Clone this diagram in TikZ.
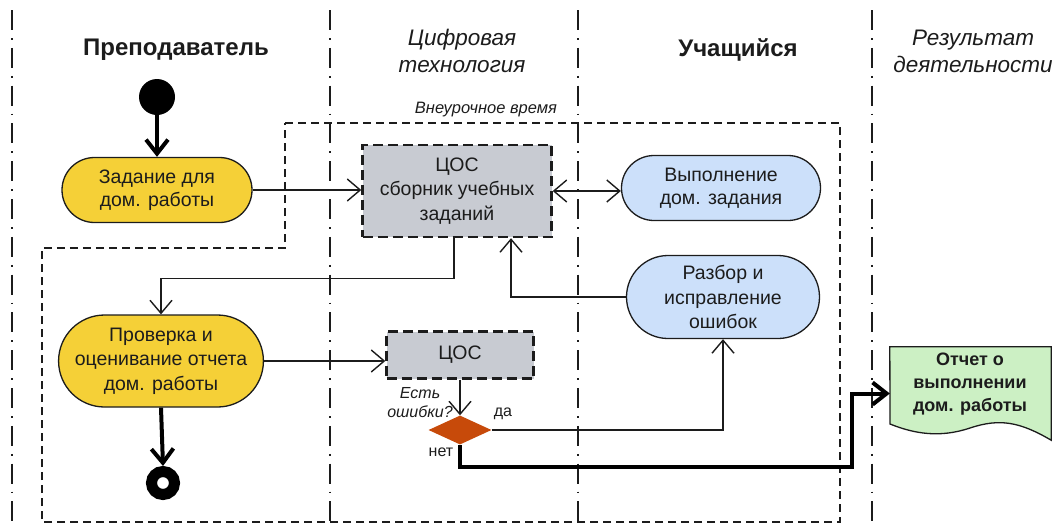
\documentclass[tikz,border=0pt]{standalone}
\usepackage{fontspec}
\setmainfont{Liberation Sans}
\usetikzlibrary{arrows.meta,shapes.misc,shapes.geometric,calc}

\definecolor{taskyellow}{RGB}{245,208,55}
\definecolor{studblue}{RGB}{204,224,250}
\definecolor{cosgray}{RGB}{200,203,210}
\definecolor{docgreen}{RGB}{204,240,196}
\definecolor{decision}{RGB}{199,74,10}
\definecolor{ink}{RGB}{28,28,28}

\tikzset{
  x=1pt, y=-1pt,
  every node/.style={text=ink, align=center},
  body/.style={font=\fontsize{19.5}{24.5}\selectfont},
  lanetitle/.style={font=\fontsize{24}{27}\selectfont\bfseries},
  laneitalic/.style={font=\fontsize{22.5}{27}\selectfont\itshape},
  smallnote/.style={font=\fontsize{16.5}{19}\selectfont\itshape},
  branch/.style={font=\fontsize{16}{19}\selectfont},
  lane/.style={line width=1.6pt, dash pattern=on 20pt off 8pt on 1.8pt off 8pt},
  region/.style={line width=1.4pt, dash pattern=on 8pt off 5pt},
  yellowact/.style={body, rounded rectangle, draw=ink, line width=1.3pt, fill=taskyellow, inner sep=2pt},
  blueact/.style={body, rounded rectangle, draw=ink, line width=1.3pt, fill=studblue, inner sep=2pt},
  cosbox/.style={body, rectangle, draw=ink, fill=cosgray, line width=2.4pt, dash pattern=on 10pt off 5pt},
  flow/.style={draw=ink, line width=1.4pt, -{Straight Barb[length=13pt,width=22pt,line width=1.4pt]}},
  twoway/.style={draw=ink, line width=1.4pt, {Straight Barb[length=13pt,width=22pt,line width=1.4pt]}-{Straight Barb[length=13pt,width=22pt,line width=1.4pt]}},
  mainflow/.style={draw=black, line width=4pt, -{Straight Barb[length=14pt,width=22pt,line width=4pt]}},
}

\begin{document}
\begin{tikzpicture}
\useasboundingbox (0,0) rectangle (1054,528);

% swimlane separators
\foreach \lx in {12,330,578,872}
  \draw[lane, ink] (\lx,10) -- (\lx,528);

% lane headings
\node[lanetitle] (hteacher) at (176,50) {Преподаватель};
\node[laneitalic] (htech) at (462,51) {Цифровая\\технология};
\node[lanetitle] (hstudent) at (738,50) {Учащийся};
\node[laneitalic] (hresult) at (973,51) {Результат\\деятельности};

% out-of-class area
\draw[region, ink] (285,123) -- (840,123) -- (840,522) -- (42,522) -- (42,248) -- (285,248) -- cycle;
\node[smallnote] (outside) at (486,110) {Внеурочное время};

% activities
\node[fill=black, circle, minimum size=36pt, inner sep=0] (start) at (157,97) {};
\node[yellowact, font=\fontsize{19.5}{23}\selectfont, minimum width=194pt, minimum height=65pt] (task) at (157,190) {Задание для\\дом. работы};
\node[cosbox, minimum width=189pt, minimum height=92pt] (cos1) at (457,191) {ЦОС\\сборник учебных\\заданий};
\node[blueact, font=\fontsize{19.5}{23}\selectfont, minimum width=203pt, minimum height=65pt] (vyp) at (721,188) {Выполнение\\дом. задания};
\node[blueact, minimum width=197pt, minimum height=83pt] (raz) at (723,297) {Разбор и\\исправление\\ошибок};
\node[yellowact, minimum width=195pt, minimum height=92pt] (prov) at (161,361) {Проверка и\\оценивание отчета\\дом. работы};
\node[cosbox, minimum width=147pt, minimum height=47pt] (cos2) at (460,355) {ЦОС};
\node[diamond, fill=decision, minimum width=63pt, minimum height=29pt, inner sep=0, aspect=2.2] (dia) at (460,430) {};
\node[circle, draw=black, line width=11pt, minimum size=23pt, inner sep=0, fill=white] (stop) at (163,483) {};

% result document
\node[minimum width=161pt, minimum height=93pt, inner sep=0] (doc) at (970.5,393.5) {};
\draw[ink, line width=1.3pt, fill=docgreen]
  (doc.north west) -- (doc.north east) -- (doc.south east)
  .. controls (1020,422) and (1000,418) .. (970,428)
  .. controls (940,438) and (915,434) .. (890,424) -- cycle;
\node[font=\fontsize{18}{23}\selectfont\bfseries] (doctext) at (970,384) {Отчет о\\выполнении\\дом. работы};

% decision labels
\node[font=\fontsize{16}{19}\selectfont\itshape] (question) at (420,403) {Есть\\ошибки?};
\node[branch] (yes) at (503,414) {да};
\node[branch] (no) at (441,452) {нет};

% connectors
\draw[mainflow] (start) -- (task);
\draw[flow] (task.east) -- (cos1.west |- task.east);
\draw[twoway] (cos1.east) -- (vyp.west |- cos1.east);
\draw[flow] ([xshift=-3pt]cos1.south) -- ++(0,40) -| (prov.north);
\draw[flow] (raz.west) -| ([xshift=54pt]cos1.south);
\draw[flow] (prov.east) -- (cos2.west |- prov.east);
\draw[mainflow] (prov.south) -- (stop.north);
\draw[flow] (cos2.south) -- (dia.north);
\draw[flow] (dia.east) -| (raz.south);
\draw[mainflow] (dia.south) |- (852,467) |- (doc.west);
\end{tikzpicture}
\end{document}
